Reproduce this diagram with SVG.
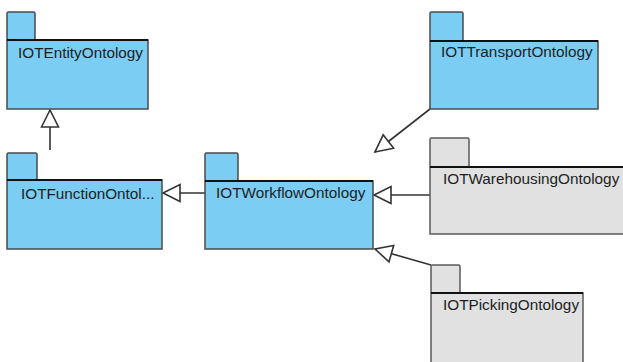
<svg xmlns="http://www.w3.org/2000/svg" width="623" height="362" viewBox="0 0 623 362">
<defs>
<style>
.blue{fill:#7ccdf3;stroke:#4a4a4a;stroke-width:1.5}
.gray{fill:#e1e1e1;stroke:#5a5a5a;stroke-width:1.5}
.div{stroke:#111;stroke-width:1.8}
.lbl{font-family:"Liberation Sans",Arial,sans-serif;font-size:15.3px;fill:#1e1e1e}
.conn{stroke:#333;stroke-width:1.6;fill:none;marker-end:url(#tri)}
</style>
<marker id="tri" markerUnits="userSpaceOnUse" markerWidth="22" markerHeight="22" viewBox="-2 -2 22 21" refX="17" refY="8.5" orient="auto">
<path d="M0,0 L17,8.5 L0,17 Z" fill="#fff" stroke="#333" stroke-width="1.6"/>
</marker>
</defs>
<rect width="623" height="362" fill="#fff"/>
<g id="connectors">
<line class="conn" x1="50" y1="150" x2="50" y2="110"/>
<line class="conn" x1="205" y1="193" x2="163" y2="193"/>
<line class="conn" x1="430" y1="109" x2="375" y2="152"/>
<line class="conn" x1="430" y1="195" x2="374" y2="195"/>
<line class="conn" x1="431" y1="265" x2="375" y2="249"/>
</g>
<g id="IOTEntityOntology">
<rect class="blue" x="7" y="12" width="28" height="28" rx="1.5"/>
<rect class="blue" x="7" y="40" width="141" height="69"/>
<line class="div" x1="7" y1="40" x2="148" y2="40"/>
<text class="lbl" x="18" y="58">IOTEntityOntology</text>
</g>
<g id="IOTFunctionOntology">
<rect class="blue" x="7" y="153" width="30" height="27" rx="1.5"/>
<rect class="blue" x="7" y="180" width="155" height="69"/>
<line class="div" x1="7" y1="180" x2="162" y2="180"/>
<text class="lbl" x="21" y="199">IOTFunctionOntol...</text>
</g>
<g id="IOTWorkflowOntology">
<rect class="blue" x="205" y="153" width="33" height="28" rx="1.5"/>
<rect class="blue" x="205" y="181" width="168" height="68"/>
<line class="div" x1="205" y1="181" x2="373" y2="181"/>
<text class="lbl" x="216" y="198">IOTWorkflowOntology</text>
</g>
<g id="IOTTransportOntology">
<rect class="blue" x="430" y="12" width="33" height="29" rx="1.5"/>
<rect class="blue" x="430" y="41" width="168" height="68"/>
<line class="div" x1="430" y1="41" x2="598" y2="41"/>
<text class="lbl" x="441" y="57">IOTTransportOntology</text>
</g>
<g id="IOTWarehousingOntology">
<rect class="gray" x="430" y="138" width="39" height="29" rx="1.5"/>
<rect class="gray" x="430" y="167" width="210" height="67"/>
<line class="div" x1="430" y1="167" x2="640" y2="167"/>
<text class="lbl" x="443" y="184">IOTWarehousingOntology</text>
</g>
<g id="IOTPickingOntology">
<rect class="gray" x="431" y="265" width="29" height="28" rx="1.5"/>
<rect class="gray" x="431" y="293" width="152" height="80"/>
<line class="div" x1="431" y1="293" x2="583" y2="293"/>
<text class="lbl" x="443" y="310">IOTPickingOntology</text>
</g>
</svg>
